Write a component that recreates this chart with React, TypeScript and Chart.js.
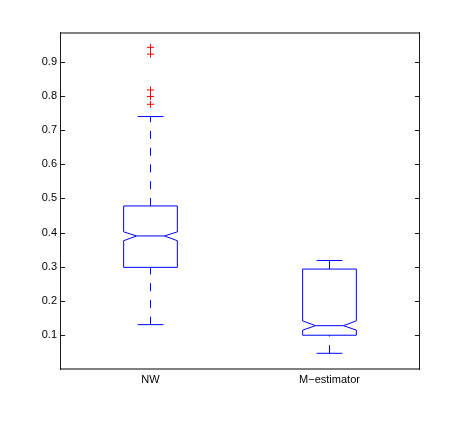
import React, { useEffect, useRef } from "react";
import { Chart, registerables } from "chart.js";

Chart.register(...registerables);

const categories = ["NW", "M−estimator"];
const lowerWhisker = [0.13, 0.046];
const q1 = [0.298, 0.099];
const median = [0.39, 0.127];
const q3 = [0.478, 0.293];
const upperWhisker = [0.74, 0.318];
const notchLow = [0.376, 0.114];
const notchHigh = [0.402, 0.141];
const outliersNW = [0.943, 0.923, 0.818, 0.799, 0.776];
const outliersM: number[] = [];
const yTicks = [0.1, 0.2, 0.3, 0.4, 0.5, 0.6, 0.7, 0.8, 0.9];

const FONT = { family: "'Liberation Sans', Arial, sans-serif", size: 11 };

export default function App() {
  const ref = useRef<HTMLCanvasElement | null>(null);
  useEffect(() => {
    if (!ref.current) return;
    const outlierPts = [
      ...outliersNW.map((v) => ({ x: 1, y: v })),
      ...outliersM.map((v) => ({ x: 2, y: v })),
    ];
    const boxPlugin = {
      id: "boxes",
      beforeDatasetsDraw(chart: any) {
        const ctx = chart.ctx;
        const xs = chart.scales.x;
        const ys = chart.scales.y;
        const halfBox = 0.15;
        const halfNotch = 0.078;
        const halfCap = 0.072;
        ctx.save();
        ctx.strokeStyle = "#0000ff";
        ctx.lineWidth = 1;
        categories.forEach((_, i) => {
          const c = i + 1;
          const X = (v: number) => xs.getPixelForValue(v);
          const Y = (v: number) => ys.getPixelForValue(v);
          // whiskers (dashed), drawn from low to high value
          ctx.setLineDash([8, 8.75]);
          ctx.beginPath();
          ctx.moveTo(X(c), Y(q3[i]));
          ctx.lineTo(X(c), Y(upperWhisker[i]));
          ctx.stroke();
          ctx.beginPath();
          ctx.moveTo(X(c), Y(lowerWhisker[i]));
          ctx.lineTo(X(c), Y(q1[i]));
          ctx.stroke();
          ctx.setLineDash([]);
          // caps
          ctx.beginPath();
          ctx.moveTo(X(c - halfCap), Y(upperWhisker[i]));
          ctx.lineTo(X(c + halfCap), Y(upperWhisker[i]));
          ctx.moveTo(X(c - halfCap), Y(lowerWhisker[i]));
          ctx.lineTo(X(c + halfCap), Y(lowerWhisker[i]));
          ctx.stroke();
          // notched box
          ctx.beginPath();
          ctx.moveTo(X(c - halfBox), Y(q3[i]));
          ctx.lineTo(X(c + halfBox), Y(q3[i]));
          ctx.lineTo(X(c + halfBox), Y(notchHigh[i]));
          ctx.lineTo(X(c + halfNotch), Y(median[i]));
          ctx.lineTo(X(c + halfBox), Y(notchLow[i]));
          ctx.lineTo(X(c + halfBox), Y(q1[i]));
          ctx.lineTo(X(c - halfBox), Y(q1[i]));
          ctx.lineTo(X(c - halfBox), Y(notchLow[i]));
          ctx.lineTo(X(c - halfNotch), Y(median[i]));
          ctx.lineTo(X(c - halfBox), Y(notchHigh[i]));
          ctx.closePath();
          ctx.stroke();
          // median
          ctx.beginPath();
          ctx.moveTo(X(c - halfNotch), Y(median[i]));
          ctx.lineTo(X(c + halfNotch), Y(median[i]));
          ctx.stroke();
        });
        ctx.restore();
      },
      afterDraw(chart: any) {
        const ctx = chart.ctx;
        const a = chart.chartArea;
        const ys = chart.scales.y;
        ctx.save();
        // frame
        ctx.fillStyle = "#808080";
        ctx.fillRect(a.left - 1, a.top - 1, a.right - a.left + 2, 2);
        ctx.fillRect(a.left - 1, a.bottom - 1, a.right - a.left + 2, 2);
        ctx.fillStyle = "#1a1a1a";
        ctx.fillRect(a.left - 1, a.top - 1, 1, a.bottom - a.top + 2);
        ctx.fillRect(a.right, a.top - 1, 1, a.bottom - a.top + 2);
        // inward ticks
        ctx.strokeStyle = "#1a1a1a";
        ctx.lineWidth = 1;
        ctx.beginPath();
        yTicks.forEach((t) => {
          const y = Math.round(ys.getPixelForValue(t)) + 0.5;
          ctx.moveTo(a.left, y);
          ctx.lineTo(a.left + 4, y);
          ctx.moveTo(a.right, y);
          ctx.lineTo(a.right - 4, y);
        });
        ctx.stroke();
        ctx.restore();
      },
    };
    const chart = new Chart(ref.current, {
      type: "scatter",
      data: {
        datasets: [
          {
            data: outlierPts,
            pointStyle: "cross",
            radius: 3.5,
            borderColor: "#ff0000",
            borderWidth: 1,
            backgroundColor: "#ff0000",
          },
        ],
      },
      options: {
        responsive: false,
        animation: false,
        layout: { padding: { top: 33, right: 44, left: 0, bottom: 0 } },
        plugins: { legend: { display: false }, tooltip: { enabled: false } },
        scales: {
          x: {
            type: "linear",
            min: 0.5,
            max: 2.5,
            grid: { display: false, drawTicks: false },
            border: { display: false },
            afterBuildTicks: (s: any) => {
              s.ticks = categories.map((_, i) => ({ value: i + 1 }));
            },
            afterFit: (s: any) => {
              s.height = 67;
            },
            ticks: {
              autoSkip: false,
              maxRotation: 0,
              padding: 4,
              color: "#000",
              font: FONT,
              callback: (v: any) => categories[Math.round(v) - 1] ?? "",
            },
          },
          y: {
            type: "linear",
            min: 0,
            max: 0.985,
            grid: { display: false, drawTicks: false },
            border: { display: false },
            afterBuildTicks: (s: any) => {
              s.ticks = yTicks.map((v) => ({ value: v }));
            },
            afterFit: (s: any) => {
              s.width = 61;
            },
            ticks: {
              autoSkip: false,
              padding: 4,
              color: "#000",
              font: FONT,
              callback: (v: any) => Number(v).toFixed(1),
            },
          },
        },
      },
      plugins: [boxPlugin],
    } as any);
    return () => chart.destroy();
  }, []);
  return (
    <div style={{ position: "absolute", left: 0, top: 0, width: 463, height: 436, background: "#fff" }}>
      <canvas ref={ref} width={463} height={436} />
    </div>
  );
}
